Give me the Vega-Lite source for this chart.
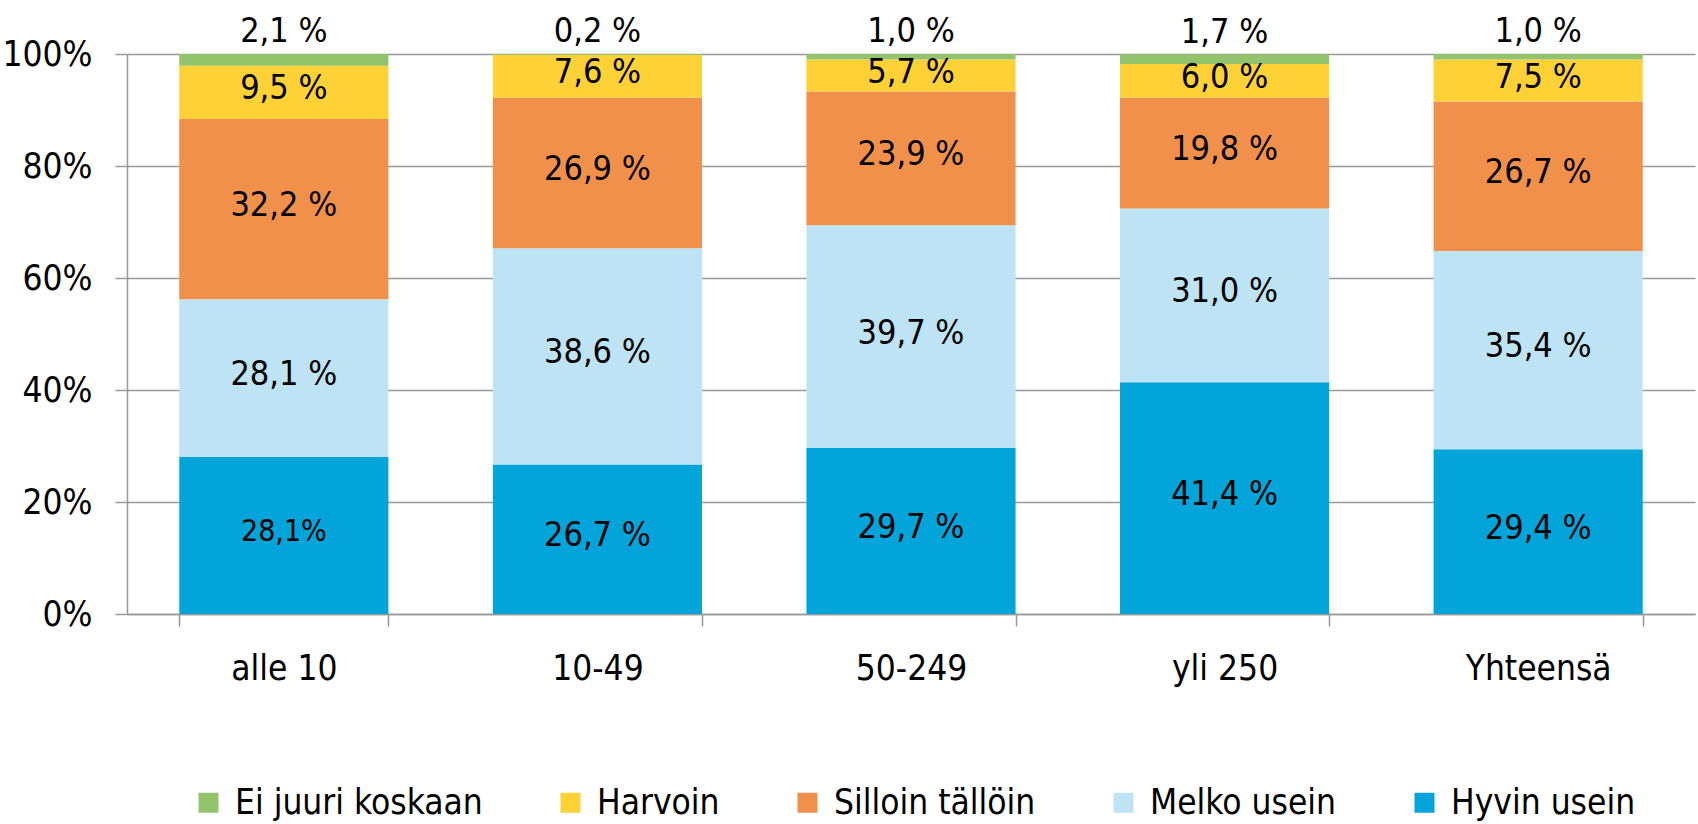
{
  "$schema": "https://vega.github.io/schema/vega-lite/v6.json",
  "width": 1568,
  "height": 560,
  "autosize": {"type": "none"},
  "padding": {"left": 127, "top": 54, "right": 3, "bottom": 210},
  "background": "white",
  "config": {
    "font": "DejaVu Sans Condensed",
    "view": {"stroke": null},
    "axis": {"labelColor": "#000000", "labelFont": "DejaVu Sans Condensed", "labelFontSize": 35, "domainColor": "#999999", "domainWidth": 1.5, "tickColor": "#999999", "tickWidth": 1.5, "gridColor": "#999999", "gridWidth": 1.5},
    "legend": {"labelFont": "DejaVu Sans Condensed", "labelFontSize": 35, "labelColor": "#000000", "labelLimit": 0, "padding": 0}
  },
  "data": {
    "values": [
      {"koko": "alle 10", "vastaus": "Hyvin usein", "jarj": 1, "osuus": 28.1, "label": "28,1%"},
      {"koko": "alle 10", "vastaus": "Melko usein", "jarj": 2, "osuus": 28.1, "label": "28,1 %"},
      {"koko": "alle 10", "vastaus": "Silloin tällöin", "jarj": 3, "osuus": 32.2, "label": "32,2 %"},
      {"koko": "alle 10", "vastaus": "Harvoin", "jarj": 4, "osuus": 9.5, "label": "9,5 %"},
      {"koko": "alle 10", "vastaus": "Ei juuri koskaan", "jarj": 5, "osuus": 2.1, "label": "2,1 %"},
      {"koko": "10-49", "vastaus": "Hyvin usein", "jarj": 1, "osuus": 26.7, "label": "26,7 %"},
      {"koko": "10-49", "vastaus": "Melko usein", "jarj": 2, "osuus": 38.6, "label": "38,6 %"},
      {"koko": "10-49", "vastaus": "Silloin tällöin", "jarj": 3, "osuus": 26.9, "label": "26,9 %"},
      {"koko": "10-49", "vastaus": "Harvoin", "jarj": 4, "osuus": 7.6, "label": "7,6 %"},
      {"koko": "10-49", "vastaus": "Ei juuri koskaan", "jarj": 5, "osuus": 0.2, "label": "0,2 %"},
      {"koko": "50-249", "vastaus": "Hyvin usein", "jarj": 1, "osuus": 29.7, "label": "29,7 %"},
      {"koko": "50-249", "vastaus": "Melko usein", "jarj": 2, "osuus": 39.7, "label": "39,7 %"},
      {"koko": "50-249", "vastaus": "Silloin tällöin", "jarj": 3, "osuus": 23.9, "label": "23,9 %"},
      {"koko": "50-249", "vastaus": "Harvoin", "jarj": 4, "osuus": 5.7, "label": "5,7 %"},
      {"koko": "50-249", "vastaus": "Ei juuri koskaan", "jarj": 5, "osuus": 1.0, "label": "1,0 %"},
      {"koko": "yli 250", "vastaus": "Hyvin usein", "jarj": 1, "osuus": 41.4, "label": "41,4 %"},
      {"koko": "yli 250", "vastaus": "Melko usein", "jarj": 2, "osuus": 31.0, "label": "31,0 %"},
      {"koko": "yli 250", "vastaus": "Silloin tällöin", "jarj": 3, "osuus": 19.8, "label": "19,8 %"},
      {"koko": "yli 250", "vastaus": "Harvoin", "jarj": 4, "osuus": 6.0, "label": "6,0 %"},
      {"koko": "yli 250", "vastaus": "Ei juuri koskaan", "jarj": 5, "osuus": 1.7, "label": "1,7 %"},
      {"koko": "Yhteensä", "vastaus": "Hyvin usein", "jarj": 1, "osuus": 29.4, "label": "29,4 %"},
      {"koko": "Yhteensä", "vastaus": "Melko usein", "jarj": 2, "osuus": 35.4, "label": "35,4 %"},
      {"koko": "Yhteensä", "vastaus": "Silloin tällöin", "jarj": 3, "osuus": 26.7, "label": "26,7 %"},
      {"koko": "Yhteensä", "vastaus": "Harvoin", "jarj": 4, "osuus": 7.5, "label": "7,5 %"},
      {"koko": "Yhteensä", "vastaus": "Ei juuri koskaan", "jarj": 5, "osuus": 1.0, "label": "1,0 %"}
    ]
  },
  "encoding": {
    "x": {
      "field": "koko", "type": "nominal",
      "sort": ["alle 10", "10-49", "50-249", "yli 250", "Yhteensä"],
      "scale": {"paddingInner": 0.333, "paddingOuter": 0.1667},
      "axis": {"title": null, "labelAngle": 0, "tickBand": "extent", "tickSize": 12, "labelPadding": 25, "grid": false}
    }
  },
  "layer": [
    {
      "mark": {"type": "bar"},
      "encoding": {
        "y": {
          "field": "osuus", "type": "quantitative", "stack": "zero",
          "scale": {"domain": [0, 100], "nice": false},
          "axis": {"title": null, "values": [0, 20, 40, 60, 80, 100], "labelExpr": "datum.value + '%'", "tickSize": 12, "labelPadding": 23, "grid": true}
        },
        "color": {
          "field": "vastaus", "type": "nominal",
          "scale": {
            "domain": ["Ei juuri koskaan", "Harvoin", "Silloin tällöin", "Melko usein", "Hyvin usein"],
            "range": ["#93C36C", "#FED136", "#F0904A", "#BEE3F4", "#03A4D9"]
          },
          "legend": {"title": null, "orient": "none", "legendX": 64, "legendY": 731, "direction": "horizontal", "columns": 5, "symbolType": "square", "symbolSize": 400, "symbolStrokeWidth": 0, "labelOffset": 9, "columnPadding": 70}
        },
        "order": {"field": "jarj", "type": "quantitative"}
      }
    },
    {
      "transform": [{"filter": "datum.vastaus !== 'Ei juuri koskaan'"}],
      "mark": {"type": "text", "baseline": "middle", "align": "center", "color": "#000000", "dy": -3},
      "encoding": {
        "y": {"field": "osuus", "type": "quantitative", "stack": "zero", "bandPosition": 0.5},
        "text": {"field": "label"},
        "order": {"field": "jarj", "type": "quantitative"},
        "size": {"condition": {"test": "datum.label === '28,1%'", "value": 30}, "value": 34}
      }
    },
    {
      "mark": {"type": "text", "baseline": "alphabetic", "align": "center", "color": "#000000", "fontSize": 34, "dy": -12},
      "encoding": {
        "y": {"field": "osuus", "type": "quantitative", "stack": "zero"},
        "text": {"field": "label"},
        "order": {"field": "jarj", "type": "quantitative"},
        "opacity": {"condition": {"test": "datum.vastaus === 'Ei juuri koskaan'", "value": 1}, "value": 0}
      }
    }
  ]
}
